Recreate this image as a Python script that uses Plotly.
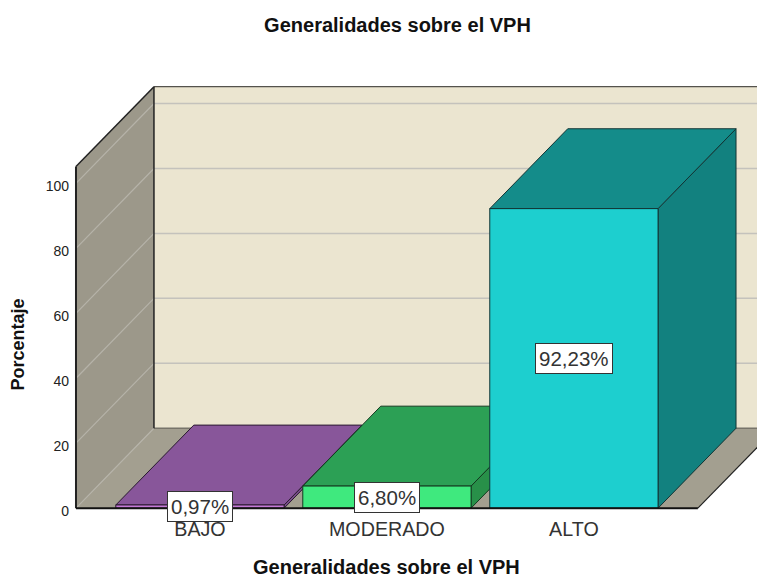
import plotly.graph_objects as go

# ---------------- data ----------------
categories = ["BAJO", "MODERADO", "ALTO"]
percentages = [0.97, 6.80, 92.23]
value_labels = ["0,97%", "6,80%", "92,23%"]
y_ticks = [0, 20, 40, 60, 80, 100]
y_tick_labels = ["0", "20", "40", "60", "80", "100"]

title_text = "Generalidades sobre el VPH"
x_title = "Generalidades sobre el VPH"
y_title = "Porcentaje"

# ---------------- styling ----------------
front_colors = ["#C47AD6", "#3FE97E", "#1DCFCF"]
top_colors = ["#88569A", "#2CA055", "#148C8A"]
side_colors = ["#7A4D8A", "#289049", "#12817F"]
edge_colors = ["#2a1a30", "#143a20", "#123434"]

BACK_WALL = "#EBE5D0"
LEFT_WALL = "#9C988A"
FLOOR = "#A39F90"
BACK_GRID = "#C4C2BC"
SIDE_GRID = "#B6B3A9"
FONT = "Liberation Sans, Arial, sans-serif"

# 3D pseudo-perspective geometry (category units along x, percent along y)
BAR_HALF = 0.45
DX = 0.417
DY = 24.6
WALL_LEFT = -0.663
FLOOR_RIGHT = 2.663
WALL_TOP = 105.2
X_RANGE = [-0.679, 3.022]
Y_RANGE = [-1.5, 130]
FAR_RIGHT = 4.0

# figure sits inside the page body (8 px offset)
FIG_W, FIG_H = 757, 570
M_L, M_R, M_T, M_B = 65, 0, 78, 65
PLOT_W = FIG_W - M_L - M_R
PLOT_H = FIG_H - M_T - M_B

fig = go.Figure()


def poly(xs, ys, fill, line_color=None, width=1):
    fig.add_trace(go.Scatter(
        x=list(xs) + [xs[0]], y=list(ys) + [ys[0]],
        mode="lines", fill="toself", fillcolor=fill,
        line=dict(color=line_color or fill, width=width if line_color else 0),
        hoverinfo="skip", showlegend=False))


def seg(xs, ys, color, width=1):
    fig.add_trace(go.Scatter(
        x=xs, y=ys, mode="lines", line=dict(color=color, width=width),
        hoverinfo="skip", showlegend=False))


# back wall
poly([WALL_LEFT + DX, FAR_RIGHT, FAR_RIGHT, WALL_LEFT + DX],
     [DY, DY, WALL_TOP + DY, WALL_TOP + DY], BACK_WALL)
# left wall
poly([WALL_LEFT, WALL_LEFT + DX, WALL_LEFT + DX, WALL_LEFT],
     [0, DY, WALL_TOP + DY, WALL_TOP], LEFT_WALL)
# floor
poly([WALL_LEFT, FLOOR_RIGHT, FLOOR_RIGHT + DX, WALL_LEFT + DX],
     [0, 0, DY, DY], FLOOR)

# gridlines
for t in y_ticks:
    seg([WALL_LEFT, WALL_LEFT + DX], [t, t + DY], SIDE_GRID, 1.2)
    if t > 0:
        seg([WALL_LEFT + DX, FAR_RIGHT], [t + DY, t + DY], BACK_GRID, 1.5)

# wall edges
seg([WALL_LEFT + DX, FAR_RIGHT], [DY, DY], "#77746a", 1.5)
seg([WALL_LEFT + DX, FAR_RIGHT], [WALL_TOP + DY, WALL_TOP + DY], "#55534d", 1.2)
seg([WALL_LEFT + DX, WALL_LEFT + DX], [DY, WALL_TOP + DY], "#222222", 1.5)
seg([WALL_LEFT, WALL_LEFT + DX], [WALL_TOP, WALL_TOP + DY], "#222222", 1.5)
seg([WALL_LEFT, WALL_LEFT], [0, WALL_TOP], "#222222", 2)
seg([FLOOR_RIGHT, FLOOR_RIGHT + DX], [0, DY], "#222222", 1.2)

# bars (drawn left to right so right bars occlude left side faces)
for i, v in enumerate(percentages):
    x0, x1 = i - BAR_HALF, i + BAR_HALF
    ec = edge_colors[i]
    poly([x1, x1 + DX, x1 + DX, x1], [0, DY, v + DY, v], side_colors[i], ec, 1)
    poly([x0, x1, x1 + DX, x0 + DX], [v, v, v + DY, v + DY], top_colors[i], ec, 1)
    poly([x0, x1, x1, x0], [0, 0, v, v], front_colors[i], ec, 1)

# front floor edge
seg([WALL_LEFT, FLOOR_RIGHT], [0, 0], "#111111", 2)

# value labels
for i, (v, lab) in enumerate(zip(percentages, value_labels)):
    fig.add_annotation(
        x=i, y=v / 2, xref="x", yref="y", text=lab, showarrow=False,
        font=dict(family=FONT, size=20.5, color="#333333"),
        bgcolor="white", bordercolor="#333333", borderwidth=1, borderpad=3)

# axis titles
fig.add_annotation(
    x=(WALL_LEFT + FLOOR_RIGHT) / 2, xref="x", y=0, yref="paper",
    yshift=-67, text=f"<b>{x_title}</b>", showarrow=False,
    font=dict(family=FONT, size=20, color="#111111"))
fig.add_annotation(
    x=(9.5 - M_L) / PLOT_W, xref="paper", y=(M_T + PLOT_H - 337) / PLOT_H,
    yref="paper", xanchor="center", yanchor="middle",
    text=f"<b>{y_title}</b>", textangle=-90, showarrow=False,
    font=dict(family=FONT, size=18, color="#111111"))

fig.update_layout(
    width=FIG_W, height=FIG_H,
    margin=dict(l=M_L, r=M_R, t=M_T, b=M_B, autoexpand=False),
    paper_bgcolor="white", plot_bgcolor="white",
    title=dict(text=f"<b>{title_text}</b>", x=389.5 / FIG_W, xanchor="center",
               y=1 - 16.5 / FIG_H, yanchor="middle", yref="container",
               font=dict(family=FONT, size=20, color="#111111")),
    xaxis=dict(range=X_RANGE, showgrid=False, zeroline=False, showline=False,
               tickvals=list(range(len(categories))), ticktext=categories,
               ticks="", ticklabelstandoff=2,
               tickfont=dict(family=FONT, size=19.7, color="#333333")),
    yaxis=dict(range=Y_RANGE, showgrid=False, zeroline=False, showline=False,
               tickvals=y_ticks, ticktext=y_tick_labels, ticks="",
               ticklabelstandoff=3, ticklabelshift=3,
               tickfont=dict(family=FONT, size=14, color="#222222")),
)

fig.write_html("out.html")
